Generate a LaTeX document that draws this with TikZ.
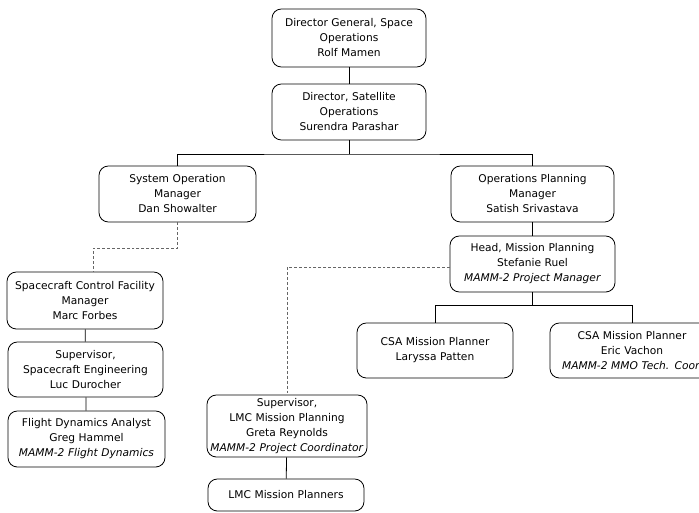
\documentclass[tikz,border=0pt]{standalone}
\usepackage{fontspec}
\setmainfont{DejaVu Sans}
\usepackage{tikz}
\usetikzlibrary{calc,positioning}
\tikzset{
  line/.style = {line width=0.6pt},
  dashln/.style = {line width=0.6pt, draw=black!60, dash pattern=on 2.2pt off 1.5pt},
  box/.style  = {draw, line width=0.6pt, rounded corners=7pt, align=center, inner sep=0pt,
                 font=\fontsize{8}{11.25}\selectfont},
  orgbox/.style 2 args = {box, minimum width=#1, text width=#1, minimum height=#2},
}

\begin{document}
\begin{tikzpicture}[x=0.75pt, y=-0.75pt]
  \useasboundingbox (0,0) rectangle (699,512);
  % top of the chart
  \node[orgbox={115.5pt}{43.5pt}] (dg) at (349,38) {Director General, Space\\Operations\\Rolf Mamen};
  \node[orgbox={115.5pt}{42pt}] (dso) at (349,112) {Director, Satellite\\Operations\\Surendra Parashar};
  \node[orgbox={117.75pt}{42pt}] (som) at (177.5,194) {System Operation\\Manager\\Dan Showalter};
  \node[orgbox={122.25pt}{42pt}] (opm) at (532.5,194) {Operations Planning\\Manager\\Satish Srivastava};
  \node[orgbox={123.75pt}{42pt}] (head) at (532.5,264) {Head, Mission Planning\\Stefanie Ruel\\\textit{MAMM-2 Project Manager}};
  % planners
  \node[orgbox={117pt}{41.25pt}] (csalp) at (435,350.5) {CSA Mission Planner\\Laryssa Patten};
  \node[orgbox={123pt}{41.25pt}] (csaev) at (632,350.5) {CSA Mission Planner\\Eric Vachon\\\textit{MAMM-2 MMO Tech. Coor.}};
  % left branch
  \node[orgbox={117pt}{42.75pt}] (scf) at (85,300.5) {Spacecraft Control Facility\\Manager\\Marc Forbes};
  \node[orgbox={116.25pt}{41.25pt}] (sse) at (85.5,369.5) {Supervisor,\\Spacecraft Engineering\\Luc Durocher};
  \node[orgbox={117.75pt}{42pt}] (fda) at (86.5,439) {Flight Dynamics Analyst\\Greg Hammel\\\textit{MAMM-2 Flight Dynamics}};
  % LMC
  \node[orgbox={120pt}{46.5pt}] (lmcs) at (287,426) {Supervisor,\\LMC Mission Planning\\Greta Reynolds\\\textit{MAMM-2 Project Coordinator}};
  \node[orgbox={117pt}{24pt}] (lmcp) at (286,495) {LMC Mission Planners};

  \coordinate (bus1) at (349,154);
  \coordinate (bus2) at (532.5,305);
  \draw[line] (dg) -- (dso);
  \draw[line] (dso) -- (bus1);
  \draw[line] (som.north) |- (bus1) -| (opm.north);
  \draw[line] (opm) -- (head);
  \draw[line] (head) -- (bus2);
  \draw[line] (csalp.north) |- (bus2) -| (csaev.north);
  \draw[line] (scf) -- (sse);
  \draw[line] (sse) -- (fda);
  \draw[line] (lmcs) -- (lmcp);
  \draw[dashln] (som.south) -- ++(0,26) -| ([xshift=6pt]scf.north);
  \draw[dashln] ([yshift=-2.25pt]head.west) -| (lmcs.north);
\end{tikzpicture}
\end{document}
